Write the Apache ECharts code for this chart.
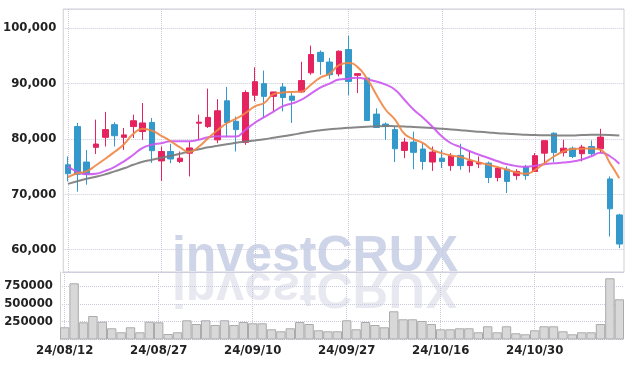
<!DOCTYPE html>
<html>
<head>
<meta charset="utf-8">
<script src="https://cdn.jsdelivr.net/npm/echarts@6/dist/echarts.min.js"></script>
<style>
	html, body { margin: 0; padding: 0; background: #fff; }
	#chart { width: 634px; height: 366px; }
</style>
</head>
<body>
<div id="chart"></div>
<script>
// 거래일
var dates = ['24/08/12', '24/08/13', '24/08/14', '24/08/16', '24/08/19', '24/08/20', '24/08/21', '24/08/22', '24/08/23', '24/08/26',
	'24/08/27', '24/08/28', '24/08/29', '24/08/30', '24/09/02', '24/09/03', '24/09/04', '24/09/05', '24/09/06', '24/09/09',
	'24/09/10', '24/09/11', '24/09/12', '24/09/13', '24/09/19', '24/09/20', '24/09/23', '24/09/24', '24/09/25', '24/09/26',
	'24/09/27', '24/09/30', '24/10/02', '24/10/04', '24/10/07', '24/10/08', '24/10/10', '24/10/11', '24/10/14', '24/10/15',
	'24/10/16', '24/10/17', '24/10/18', '24/10/21', '24/10/22', '24/10/23', '24/10/24', '24/10/25', '24/10/28', '24/10/29',
	'24/10/30', '24/10/31', '24/11/01', '24/11/04', '24/11/05', '24/11/06', '24/11/07', '24/11/08', '24/11/11', '24/11/12'];

var openPrices = [75300, 82200, 75800, 78450, 80250, 82550, 80250, 82200, 81300, 82950,
	76000, 77700, 75900, 77400, 82800, 82200, 79800, 86850, 83150, 79350,
	87850, 89950, 87650, 89350, 87700, 88450, 91900, 95600, 93850, 91700,
	96100, 91450, 90950, 84450, 82650, 81650, 77900, 79400, 78150, 75800,
	76500, 75150, 77000, 75150, 75450, 75600, 73000, 74500, 73350, 74900,
	74100, 77400, 81000, 77500, 78300, 77300, 78600, 78200, 72750, 66250];
var closePrices = [73700, 73600, 73600, 79050, 81650, 80550, 80700, 83250, 82850, 77850,
	77700, 76350, 76500, 78350, 83000, 83850, 85050, 82950, 81650, 88350,
	90300, 87650, 88450, 87450, 86950, 90500, 95200, 93950, 91550, 95800,
	90350, 91750, 83300, 82050, 82200, 78200, 79400, 77550, 75900, 77600,
	75900, 76950, 75150, 76000, 75700, 73000, 74700, 72300, 74100, 73350,
	76950, 79650, 77500, 78300, 76800, 78500, 77300, 80300, 67350, 61000];
var lowPrices = [72300, 70450, 71700, 77250, 78600, 78600, 78000, 80150, 79800, 75650,
	72400, 75600, 75600, 73200, 79800, 81950, 79200, 80250, 77700, 78900,
	86750, 83750, 84950, 84950, 82850, 88250, 91550, 91550, 90800, 91250,
	87850, 88250, 83250, 81950, 79800, 75800, 76500, 74500, 74400, 74200,
	74700, 74200, 74400, 73900, 74700, 72000, 72300, 70200, 72600, 72600,
	74000, 75300, 75800, 76800, 76500, 75900, 76800, 77400, 62350, 60250];
var highPrices = [76800, 82850, 77950, 83450, 84850, 83000, 81950, 84350, 86450, 83750,
	78600, 79100, 77700, 79400, 84350, 89050, 87150, 89350, 84000, 88750,
	92900, 92300, 88450, 90050, 88250, 93900, 96800, 95950, 94600, 95950,
	98600, 91750, 91050, 85500, 82950, 82200, 80150, 81300, 79350, 78600,
	78000, 77400, 79100, 77850, 76800, 75900, 75000, 75000, 74500, 75300,
	77400, 79650, 81150, 79800, 78600, 78900, 79700, 81800, 73200, 66450];

// 이동평균선
var ma5 = [73080, 73760, 74120, 75210, 76380, 77650, 79010, 80900, 81810, 81450,
	80540, 79550, 78430, 77610, 78550, 80090, 81540, 82800, 83620, 84650,
	85840, 86460, 88050, 88370, 88460, 88550, 89760, 91030, 91750, 93290,
	93690, 92930, 90850, 87960, 85240, 83440, 80900, 79910, 79220, 78010,
	77410, 76980, 76690, 76200, 75720, 75300, 74880, 74400, 73910, 73670,
	74400, 75610, 76800, 77700, 78140, 78190, 78250, 78010, 75610, 72890];
var ma20 = [74990, 74030, 73580, 73670, 74210, 74940, 75930, 77110, 78370, 78920,
	79190, 79550, 79550, 79550, 79820, 80270, 80450, 80400, 80420, 81630,
	82890, 83890, 84880, 85880, 86380, 87050, 88140, 89220, 89940, 90700,
	90850, 91030, 90720, 90340, 89760, 88860, 87050, 85240, 83800, 82170,
	80450, 79190, 78500, 77740, 77110, 76530, 75930, 75390, 75060, 74940,
	75120, 75390, 75570, 75700, 75880, 76260, 76840, 77470, 76840, 75480];
var ma60 = [71860, 72320, 72770, 73130, 73580, 74120, 74670, 75300, 75840, 76200,
	76560, 76930, 77290, 77740, 78100, 78460, 78730, 79010, 79280, 79490,
	79690, 79910, 80180, 80450, 80720, 81030, 81320, 81540, 81720, 81860,
	81990, 82080, 82170, 82260, 82300, 82260, 82210, 82130, 82040, 81930,
	81810, 81680, 81540, 81390, 81270, 81140, 80990, 80900, 80810, 80720,
	80670, 80630, 80600, 80580, 80580, 80670, 80720, 80720, 80690, 80580];

// 거래량
var volumes = [171000, 787000, 241000, 329000, 249000, 157000, 101000, 171000, 101000, 249000,
	241000, 77000, 101000, 269000, 217000, 269000, 203000, 269000, 203000, 245000,
	227000, 227000, 143000, 115000, 157000, 245000, 217000, 129000, 115000, 115000,
	269000, 143000, 245000, 203000, 171000, 395000, 283000, 283000, 259000, 217000,
	143000, 143000, 157000, 157000, 101000, 185000, 101000, 185000, 87000, 73000,
	129000, 185000, 185000, 115000, 73000, 101000, 101000, 217000, 857000, 563000];

var candles = [];
for (var i = 0; i < dates.length; i++) {
	candles.push([openPrices[i], closePrices[i], lowPrices[i], highPrices[i]]);
}

var labelFont = {
	color: '#222',
	fontFamily: '"DejaVu Sans Condensed", Roboto, sans-serif',
	fontWeight: 'bold',
	fontSize: 13
};
var dotLine = { color: '#c9cbdc', type: 'dotted', width: 1 };
var markStyle = {
	text: 'investCRUX',
	fontFamily: '"Liberation Sans", Arial, sans-serif',
	fontWeight: 'bold',
	fontSize: 50,
	textAlign: 'center',
	textVerticalAlign: 'bottom',
	y: 10
};

var myChart = echarts.init(document.getElementById('chart'));
var option = {
	animation: false,
	graphic: [
		{//워터마크
			type: 'text', x: 315, y: 272, z: -10,
			style: Object.assign({ fill: '#cfd5e8' }, markStyle)
		},
		{//반사
			type: 'text', x: 315, y: 272, z: -10, scaleY: -1,
			style: Object.assign({ fill: '#e8e8f0' }, markStyle)
		}
	],
	grid: [
		{ left: 60, right: 10, top: 9, height: 263, show: true, borderColor: '#cfcfd6', borderWidth: 1 },
		{ left: 60, right: 10, top: 272, height: 67.5 }
	],
	xAxis: [
		{
			type: 'category', gridIndex: 0, data: dates,
			axisLine: { show: false }, axisTick: { show: false }, axisLabel: { show: false },
			splitLine: { show: true, interval: 9, alignWithLabel: true, lineStyle: dotLine }
		},
		{
			type: 'category', gridIndex: 1, data: dates,
			axisLine: { show: false }, axisTick: { show: false },
			axisLabel: Object.assign({ interval: 9, margin: 5 }, labelFont),
			splitLine: { show: true, interval: 9, alignWithLabel: true, lineStyle: dotLine }
		}
	],
	yAxis: [
		{
			type: 'value', gridIndex: 0, min: 55950, max: 103420, scale: true,
			axisLine: { show: false }, axisTick: { show: false },
			axisLabel: Object.assign({ margin: 7, showMinLabel: false, showMaxLabel: false }, labelFont),
			splitLine: { lineStyle: dotLine }
		},
		{
			type: 'value', gridIndex: 1, min: 0, max: 945000, interval: 250000,
			axisLine: { show: true, lineStyle: { color: '#cfcfd6' } }, axisTick: { show: false },
			axisLabel: Object.assign({
				margin: 7, showMinLabel: false, showMaxLabel: false,
				formatter: function(v) { return String(v); }
			}, labelFont),
			splitLine: { lineStyle: dotLine }
		}
	],
	series: [
		{
			name: 'price', type: 'candlestick', xAxisIndex: 0, yAxisIndex: 0,
			data: candles, barWidth: 6,
			itemStyle: {
				color: '#e5235f', color0: '#3399cc',
				borderColor: '#e5235f', borderColor0: '#3399cc', borderWidth: 1
			}
		},
		{
			name: 'MA60', type: 'line', data: ma60, smooth: true, symbol: 'none',
			lineStyle: { color: '#7a7a7a', width: 2, opacity: 0.9 }
		},
		{
			name: 'MA20', type: 'line', data: ma20, smooth: true, symbol: 'none',
			lineStyle: { color: '#cc55ee', width: 2, opacity: 0.9 }
		},
		{
			name: 'MA5', type: 'line', data: ma5, smooth: true, symbol: 'none',
			lineStyle: { color: '#f08645', width: 2, opacity: 0.9 }
		},
		{
			name: 'volume', type: 'bar', xAxisIndex: 1, yAxisIndex: 1,
			data: volumes, barCategoryGap: '0%',
			itemStyle: { color: '#d8d8d8', borderColor: '#ababab', borderWidth: 1 }
		}
	]
};
myChart.setOption(option);
</script>
</body>
</html>
